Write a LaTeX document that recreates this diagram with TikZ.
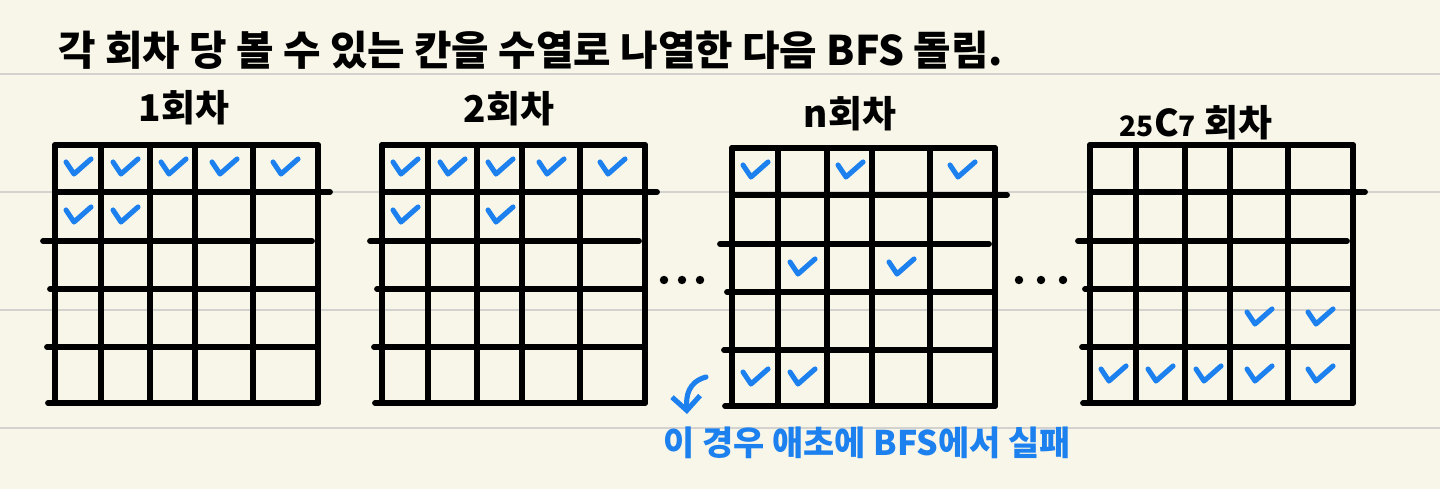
\documentclass[tikz,border=0pt]{standalone}
\usepackage{fontspec}
\newfontfamily\kor{Noto Sans CJK KR}
\usepackage{tikz}
\usetikzlibrary{arrows.meta,positioning}
\definecolor{paperbg}{HTML}{F8F6E9}
\definecolor{rulecol}{HTML}{D3D2CE}
\definecolor{inkblue}{HTML}{1C80EE}

\begin{document}
\begin{tikzpicture}[x=0.02cm,y=-0.02cm,
  ruled/.style={draw=rulecol,line width=1.6pt},
  gridln/.style={line width=3.3pt,line cap=round,line join=round},
  tick/.style={draw=inkblue,line width=2.9pt,line cap=round,line join=round},
  ttl/.style={font=\kor\bfseries\fontsize{23.2}{27}\selectfont,inner sep=0pt,anchor=west},
  lab/.style={font=\kor\bfseries\fontsize{21}{24}\selectfont,inner sep=0pt,anchor=base},
  note/.style={font=\kor\bfseries\fontsize{19.3}{23}\selectfont,text=inkblue,inner sep=0pt,anchor=west},
]
\fill[paperbg] (0,0) rectangle (1440,489);
\useasboundingbox (0,0) rectangle (1440,489);
% notebook lines
\foreach \y in {74,192,310,428} \draw[ruled] (0,\y) -- (1440,\y);

\node[ttl] (t0) at (58,50) {각 회차 당 볼 수 있는 칸을 수열로 나열한 다음 BFS 돌림.};

% the four 5x5 boards
\foreach \gx/\gy [count=\g] in {55/145,382/145,732/148,1090/145}{
  \begin{scope}[shift={(\gx,\gy)}]
    \foreach \c in {0,46,95,140,198,263} \draw[gridln] (\c,0) -- (\c,258);
    \draw[gridln] (0,0) -- (263,0);
    \draw[gridln] (0,47) -- (275,47);
    \draw[gridln] (-12,96) -- (257,96);
    \draw[gridln] (-5,144) -- (263,144);
    \draw[gridln] (-8,202) -- (263,202);
    \draw[gridln] (-7,258) -- (263,258);
    \foreach \cx [count=\i from 0] in {23,70,118,169,230}
      \foreach \cy [count=\j from 0] in {23,71,120,173,230}
        \coordinate (g\g c\i r\j) at (\cx,\cy);
  \end{scope}
}

\node[lab] (l1) at (184,122) {1회차};
\node[lab] (l2) at (509,123) {2회차};
\node[lab] (l3) at (850,128) {n회차};
\node[lab] (l4) at (1196,137) {{\fontsize{16}{20}\selectfont 25}C{\fontsize{16}{20}\selectfont 7} 회차};

% checked cells
\foreach \p in {g1c0r0,g1c1r0,g1c2r0,g1c3r0,g1c4r0,g1c0r1,g1c1r1,
                g2c0r0,g2c1r0,g2c2r0,g2c3r0,g2c4r0,g2c0r1,g2c2r1,
                g3c0r0,g3c2r0,g3c4r0,g3c1r2,g3c3r2,g3c0r4,g3c1r4,
                g4c3r3,g4c4r3,g4c0r4,g4c1r4,g4c2r4,g4c3r4,g4c4r4}
  \draw[tick] ([shift={(-12,-6)}]\p) -- ++(8,12) -- ++(17,-15);

% dots between boards
\foreach \x in {664,682,700,1019,1041,1063} \fill (\x,280) circle [radius=2.4pt];

\node[note] (n1) at (663,443) {이 경우 애초에 BFS에서 실패};
\coordinate (arS) at (706,377);
\coordinate (arT) at (687,414);
\draw[tick,-{Straight Barb[length=8pt,width=16pt]}] (arS) .. controls (688,382) and (686,396) .. (arT);
\end{tikzpicture}
\end{document}
